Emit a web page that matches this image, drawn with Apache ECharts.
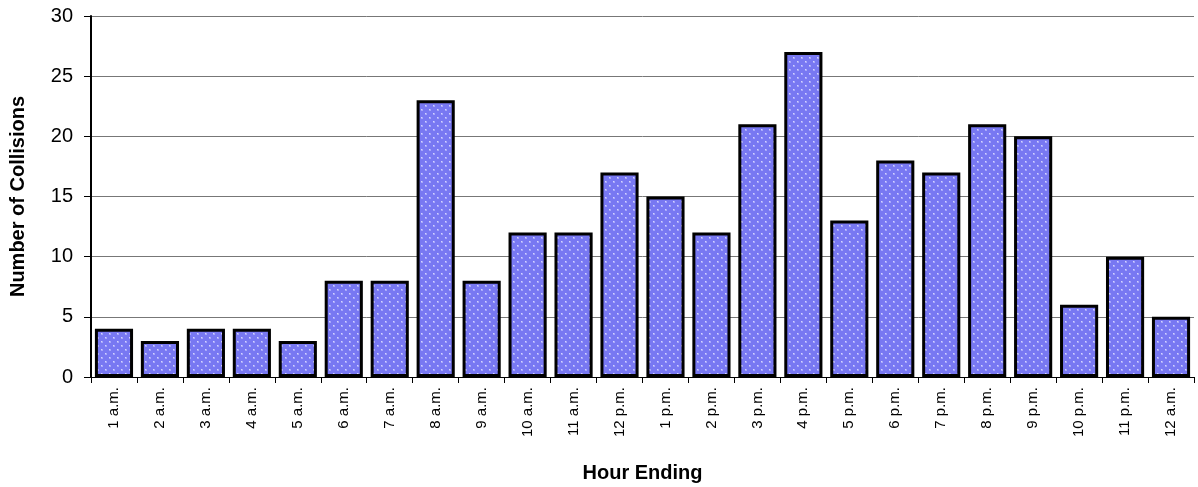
<!DOCTYPE html>
<html><head><meta charset="utf-8">
<script src="https://cdn.jsdelivr.net/npm/echarts@6/dist/echarts.min.js"></script>
<style>html,body{margin:0;padding:0;background:#fff}#c{width:1198px;height:487px}</style>
</head><body><div id="c"></div>
<script>
var categories = ["1 a.m.","2 a.m.","3 a.m.","4 a.m.","5 a.m.","6 a.m.","7 a.m.","8 a.m.","9 a.m.","10 a.m.","11 a.m.","12 p.m.","1 p.m.","2 p.m.","3 p.m.","4 p.m.","5 p.m.","6 p.m.","7 p.m.","8 p.m.","9 p.m.","10 p.m.","11 p.m.","12 a.m."];
var collisions = [4,3,4,4,3,8,8,23,8,12,12,17,15,12,21,27,13,18,17,21,20,6,10,5];
var yTicks = {min:0, max:30, interval:5};

var pc = document.createElement('canvas');
pc.width = 8; pc.height = 8;
var g = pc.getContext('2d');
g.fillStyle = '#7878f2'; g.fillRect(0,0,8,8);
g.fillStyle = '#a8a8fa';
g.fillRect(1,1,2,2); g.fillRect(5,5,2,2);
g.fillStyle = '#d4d4ff';
g.fillRect(1,1,1,1); g.fillRect(5,5,1,1);

var chart = echarts.init(document.getElementById('c'));
chart.setOption({
  animation:false,
  grid:{left:91, right:4, top:16, bottom:110, outerBoundsMode:'none', containLabel:false},
  xAxis:{
    type:'category', data:categories,
    name:'Hour Ending', nameLocation:'middle', nameGap:86,
    nameTextStyle:{fontFamily:'Liberation Sans, Arial', fontWeight:'bold', fontSize:20, color:'#000'},
    axisLine:{lineStyle:{color:'#000', width:1}},
    axisTick:{show:true, length:6, lineStyle:{color:'#000'}},
    axisLabel:{rotate:90, fontFamily:'Liberation Sans, Arial', fontSize:15, color:'#000', margin:10}
  },
  yAxis:{
    type:'value', min:yTicks.min, max:yTicks.max, interval:yTicks.interval,
    name:'Number of Collisions', nameLocation:'middle', nameGap:63,
    nameTextStyle:{fontFamily:'Liberation Sans, Arial', fontWeight:'bold', fontSize:20, color:'#000'},
    axisLine:{show:true, lineStyle:{color:'#000', width:2}},
    axisTick:{show:true, length:7, lineStyle:{color:'#000'}},
    axisLabel:{fontFamily:'Liberation Sans, Arial', fontSize:20, color:'#000', margin:18},
    splitLine:{lineStyle:{color:'#777', width:1}}
  },
  series:[{
    type:'bar', data:collisions, barCategoryGap:'17%',
    itemStyle:{color:{image:pc, repeat:'repeat'}, borderColor:'#000', borderWidth:3}
  }]
});
</script></body></html>
